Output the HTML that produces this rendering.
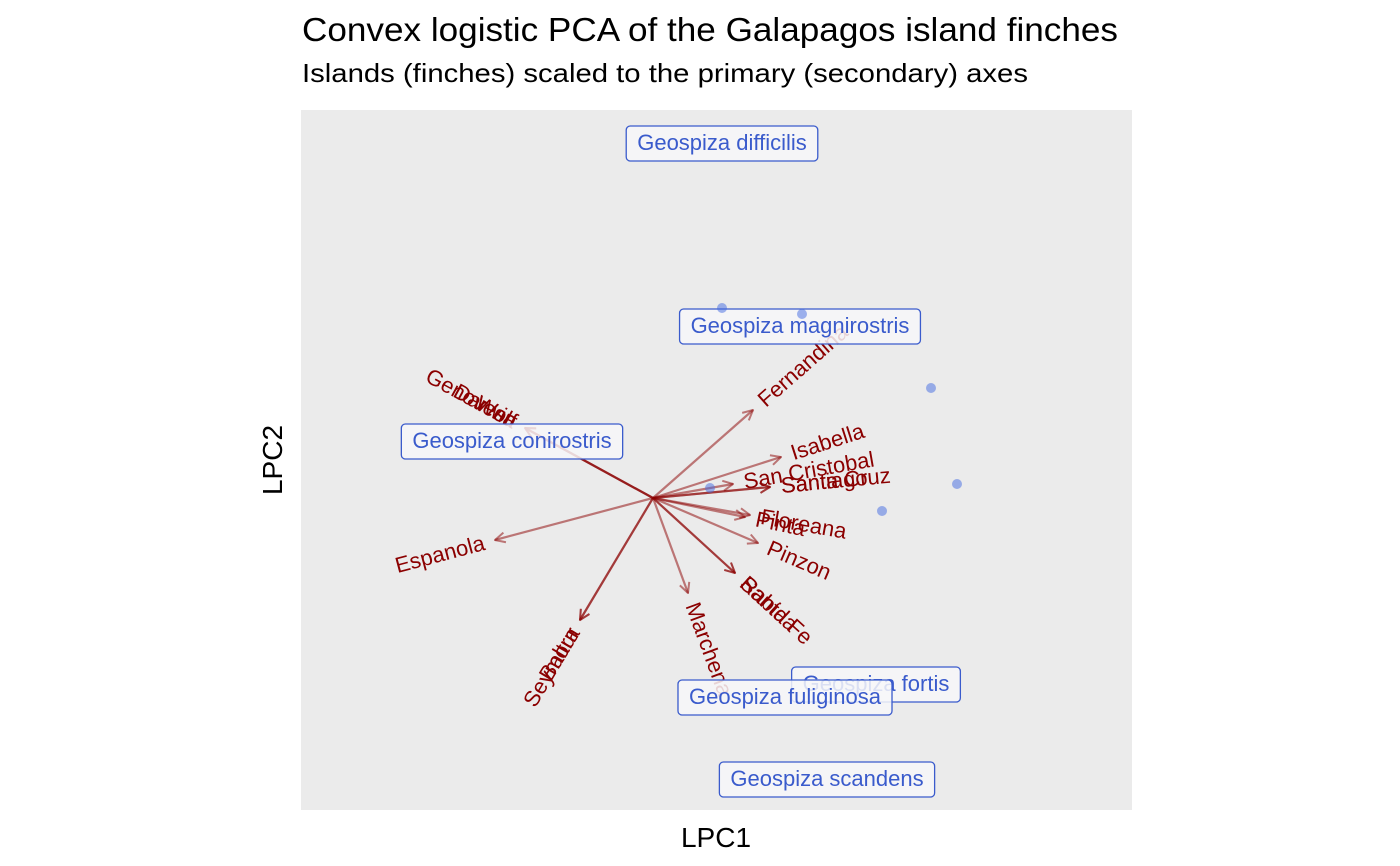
<!DOCTYPE html>
<html><head><meta charset="utf-8">
<style>
body{margin:0;background:#fff;}
svg{display:block;font-family:"Liberation Sans",Arial,sans-serif;}
</style></head>
<body>
<svg id="chart" width="1400" height="866" viewBox="0 0 1400 866">
<defs>
<marker id="ah" viewBox="0 0 12 12" refX="11" refY="6" markerWidth="12" markerHeight="12" markerUnits="userSpaceOnUse" orient="auto">
<path d="M1,1 L11,6 L1,11" fill="none" stroke="#8b0000" stroke-opacity="0.5" stroke-width="2"/>
</marker>
</defs>
<text x="302" y="41" font-size="33" textLength="816" lengthAdjust="spacingAndGlyphs" fill="#000">Convex logistic PCA of the Galapagos island finches</text>
<text x="302" y="82" font-size="26" textLength="726" lengthAdjust="spacingAndGlyphs" fill="#000">Islands (finches) scaled to the primary (secondary) axes</text>
<rect x="301" y="110" width="831" height="700" fill="#ebebeb"/>
<g id="arrows"></g>
<g id="islandLabels"></g>
<g id="speciesLabels"></g>
<g id="points"></g>
<text x="716" y="847" font-size="28" text-anchor="middle">LPC1</text>
<text transform="translate(282,460) rotate(-90)" font-size="28" text-anchor="middle">LPC2</text>
</svg>
<script>
const islands=["Fernandina","Isabella","San Cristobal","Santiago","Santa Cruz","Floreana","Pinta","Pinzon","Santa Fe","Rabida","Marchena","Seymour","Baltra","Espanola","Genovesa","Darwin","Wolf"];
const islandLPC1=[1.00,1.28,0.80,1.17,1.17,0.97,0.92,1.05,0.82,0.82,0.35,-0.73,-0.73,-1.58,-1.28,-1.28,-1.28];
const islandLPC2=[0.88,0.41,0.14,0.11,0.11,-0.17,-0.19,-0.45,-0.75,-0.75,-0.95,-1.22,-1.22,-0.42,0.70,0.70,0.70];
const species=["Geospiza difficilis","Geospiza magnirostris","Geospiza conirostris","Geospiza fortis","Geospiza fuliginosa","Geospiza scandens"];
const speciesLPC1=[0.69,1.49,2.78,3.04,2.29,0.57];
const speciesLPC2=[1.90,1.84,1.10,0.14,-0.13,0.10];
const labelLPC1=[0.69,1.47,-1.41,2.23,1.32,1.74];
const labelLPC2=[3.55,1.72,0.57,-1.86,-1.99,-2.81];
const ox=653, oy=498, sc=100;
const X=v=>ox+v*sc, Y=v=>oy-v*sc;
const NS="http://www.w3.org/2000/svg";
const ga=document.getElementById('arrows'), gl=document.getElementById('islandLabels');
islands.forEach((n,i)=>{
  const x2=X(islandLPC1[i]), y2=Y(islandLPC2[i]);
  const l=document.createElementNS(NS,'line');
  l.setAttribute('x1',ox);l.setAttribute('y1',oy);l.setAttribute('x2',x2);l.setAttribute('y2',y2);
  l.setAttribute('stroke','#8b0000');l.setAttribute('stroke-opacity','0.5');l.setAttribute('stroke-width','2.2');
  l.setAttribute('marker-end','url(#ah)');
  
  
  ga.appendChild(l);
  const dx=x2-ox, dy=y2-oy, len=Math.hypot(dx,dy), ux=dx/len, uy=dy/len;
  let ang=Math.atan2(dy,dx)*180/Math.PI;
  const right=dx>=0; if(!right) ang+=180;
  const tx=x2+ux*11, ty=y2+uy*11;
  const t=document.createElementNS(NS,'text');
  t.setAttribute('transform',`translate(${tx},${ty}) rotate(${ang})`);
  t.setAttribute('text-anchor',right?'start':'end');
  t.setAttribute('dy','7');
  t.setAttribute('font-size','22');t.setAttribute('fill','#8b0000');
  t.textContent=n;
  
  
  gl.appendChild(t);
});
const gp=document.getElementById('points'), gs=document.getElementById('speciesLabels');
species.forEach((n,i)=>{
  const c=document.createElementNS(NS,'circle');
  c.setAttribute('cx',X(speciesLPC1[i]));c.setAttribute('cy',Y(speciesLPC2[i]));c.setAttribute('r','5');
  c.setAttribute('fill','#4169e1');c.setAttribute('fill-opacity','0.5');
  
  
  gp.appendChild(c);
  const cx=X(labelLPC1[i]), cy=Y(labelLPC2[i]);
  const g=document.createElementNS(NS,'g');
  
  
  const t=document.createElementNS(NS,'text');
  t.setAttribute('x',cx);t.setAttribute('y',cy+7);t.setAttribute('text-anchor','middle');
  t.setAttribute('font-size','22');t.setAttribute('fill','#3a5bcc');t.textContent=n;
  const r=document.createElementNS(NS,'rect');
  g.appendChild(r);g.appendChild(t);gs.appendChild(g);
  const w=t.getComputedTextLength()+22;
  r.setAttribute('x',cx-w/2);r.setAttribute('y',cy-17);r.setAttribute('width',w);r.setAttribute('height',35);
  r.setAttribute('rx','4');r.setAttribute('fill','#f7f7f9');r.setAttribute('fill-opacity','0.85');
  r.setAttribute('stroke','#3a5bcc');r.setAttribute('stroke-width','1.3');
});
</script>
</body></html>
